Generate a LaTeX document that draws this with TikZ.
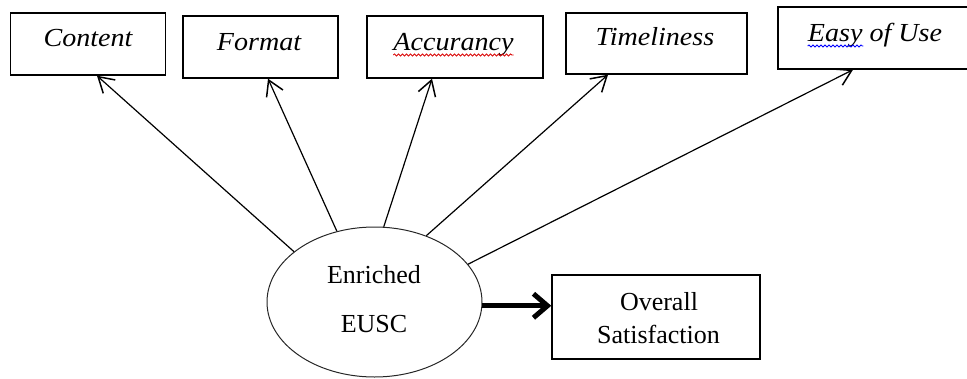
\documentclass[tikz,border=0pt]{standalone}
\usepackage{fontspec}
\setmainfont{Liberation Serif}
\newfontfamily\lblfont{Liberation Serif}[FakeStretch=1.08]
\usetikzlibrary{shapes.geometric,arrows.meta,decorations.pathmorphing}
\tikzset{
  boxn/.style={draw, line width=1.4pt, inner sep=0pt},
  lbl/.style={anchor=base, inner sep=0pt, font=\lblfont\itshape\fontsize{26}{30}\selectfont},
  txt/.style={anchor=base, inner sep=0pt, font=\fontsize{26}{30}\selectfont},
  thin arrow/.style={line width=1.2pt, -{Straight Barb[length=15pt,width=18pt,line width=1.5pt]}},
  thick arrow/.style={line width=5pt, -{Straight Barb[length=14pt,width=24pt,line width=5pt]}},
  squig/.style={line width=0.8pt, decorate, decoration={snake, amplitude=1.1pt, segment length=4pt}}
}
\begin{document}
\begin{tikzpicture}[x=1pt,y=-1pt]
\useasboundingbox (0,0) rectangle (967,378);
\clip (0,0) rectangle (967,378);
% boxes
\node[boxn, minimum width=155pt, minimum height=62pt] (c) at (88,44) {};
\node[boxn, minimum width=155pt, minimum height=62pt] (f) at (260.5,47) {};
\node[boxn, minimum width=176pt, minimum height=62pt] (a) at (455,47) {};
\node[boxn, minimum width=181pt, minimum height=61pt] (t) at (656.5,43.5) {};
\node[boxn, minimum width=194pt, minimum height=62pt] (u) at (875,38) {};
\node[boxn, minimum width=208pt, minimum height=84pt] (o) at (656,317) {};
% labels
\node[lbl] (ct) at (88,46) {Content};
\node[lbl] (ft) at (259,50) {Format};
\node[lbl] (at) at (453.5,50) {Accurancy};
\node[lbl] (tt) at (655,45) {Timeliness};
\node[lbl] (ut) at (875,41) {Easy of Use};
% spell-check squiggles
\draw[squig, red!85!black] ([yshift=-5pt]at.base west) -- ([yshift=-5pt]at.base east);
\draw[squig, blue] ([yshift=-5pt]ut.base west) -- ([yshift=-5pt,xshift=-79pt]ut.base east);
% ellipse
\node[draw, ellipse, line width=1pt, draw=black!85, minimum width=215pt, minimum height=150pt, inner sep=0pt] (e) at (374.5,302) {};
\node[txt] (e1) at (374,283) {Enriched};
\node[txt] (e2) at (374,332) {EUSC};
\node[txt] (o1) at (659,310) {Overall};
\node[txt] (o2) at (658.5,343) {Satisfaction};
% connectors
\draw[thin arrow] (e.148.8) -- ([xshift=9pt]c.south);
\draw[thin arrow] (e.118.5) -- ([xshift=7.5pt]f.south);
\draw[thin arrow] (e.83.7) -- ([xshift=-23pt]a.south);
\draw[thin arrow] (e.52.7) -- ([xshift=-48.5pt]t.south);
\draw[thin arrow] (e.22.7) -- ([xshift=-22pt]u.south);
\draw[thick arrow] (e.-2.7) -- (e.-2.7 -| o.west);
\end{tikzpicture}
\end{document}
